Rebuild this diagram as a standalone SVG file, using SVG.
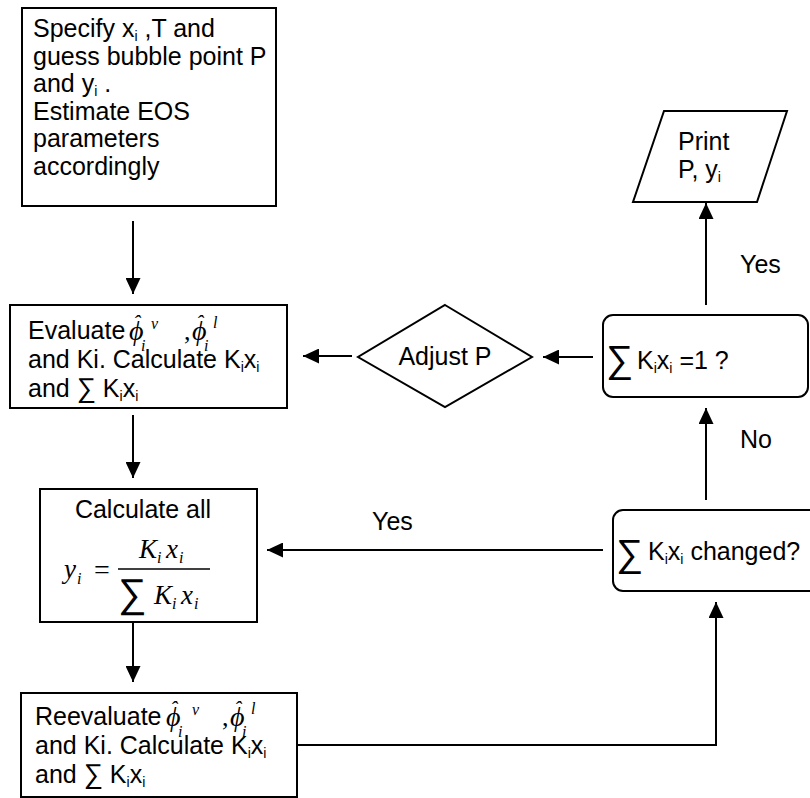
<svg xmlns="http://www.w3.org/2000/svg" width="810" height="798" viewBox="0 0 810 798">
<style>
.box{fill:#fff;stroke:#000;stroke-width:2}
.t{font-family:"Liberation Sans",Arial,sans-serif;font-size:25px;fill:#000}
.sub{font-size:14px}
.m{font-family:"Liberation Serif","Times New Roman",serif;font-style:italic;fill:#000}
.sig{font-family:"Liberation Sans","DejaVu Sans",sans-serif;fill:#000}
.c{fill:none;stroke:#000;stroke-width:2}
</style>
<defs>
<marker id="ah" markerUnits="userSpaceOnUse" markerWidth="16" markerHeight="15" refX="16" refY="7.5" orient="auto">
<path d="M0,0 L16,7.5 L0,15 z" fill="#000"/>
</marker>
</defs>
<g id="connectors">
<line class="c" x1="133" y1="221" x2="133" y2="294" marker-end="url(#ah)"/>
<line class="c" x1="133" y1="415" x2="133" y2="478" marker-end="url(#ah)"/>
<line class="c" x1="133" y1="622" x2="133" y2="682" marker-end="url(#ah)"/>
<polyline class="c" points="297,745 716,745 716,602" marker-end="url(#ah)"/>
<line class="c" x1="706" y1="500" x2="706" y2="408" marker-end="url(#ah)"/>
<line class="c" x1="706" y1="305" x2="706" y2="203" marker-end="url(#ah)"/>
<line class="c" x1="593" y1="357" x2="543" y2="357" marker-end="url(#ah)"/>
<line class="c" x1="352" y1="356" x2="303" y2="356" marker-end="url(#ah)"/>
<line class="c" x1="603" y1="550" x2="267" y2="550" marker-end="url(#ah)"/>
<text class="t" x="740" y="273">Yes</text>
<text class="t" x="740" y="448">No</text>
<text class="t" x="372" y="530">Yes</text>
</g>
<g id="n1">
<rect class="box" x="22" y="8" width="254" height="198"/>
<text class="t" x="33" y="37">Specify x<tspan class="sub" dy="4">i</tspan><tspan dy="-4"> ,T and</tspan></text>
<text class="t" x="33" y="65">guess bubble point P</text>
<text class="t" x="33" y="92">and y<tspan class="sub" dy="4">i</tspan><tspan dy="-4"> .</tspan></text>
<text class="t" x="33" y="120">Estimate EOS</text>
<text class="t" x="33" y="147">parameters</text>
<text class="t" x="33" y="175">accordingly</text>
</g>
<g id="n2">
<rect class="box" x="10" y="305" width="277" height="103"/>
<text class="t" x="28" y="339">Evaluate</text>
<text class="m"><tspan x="129" y="340" font-size="28">ϕ</tspan><tspan x="133" y="330" font-size="22">ˆ</tspan><tspan x="141" y="351" font-size="16">i</tspan><tspan x="151" y="329" font-size="16">v</tspan></text>
<text class="m"><tspan x="184" y="340" font-size="26" font-style="normal">,</tspan><tspan x="192" y="340" font-size="28">ϕ</tspan><tspan x="196" y="330" font-size="22">ˆ</tspan><tspan x="204" y="351" font-size="16">i</tspan><tspan x="213" y="328" font-size="16">l</tspan></text>
<text class="t" x="28" y="368">and Ki. Calculate K<tspan class="sub" dy="4">i</tspan><tspan dy="-4">x</tspan><tspan class="sub" dy="4">i</tspan></text>
<text class="t" x="28" y="397">and <tspan class="sig" font-size="27">∑</tspan> K<tspan class="sub" dy="4">i</tspan><tspan dy="-4">x</tspan><tspan class="sub" dy="4">i</tspan></text>
</g>
<g id="n3">
<rect class="box" x="40" y="489" width="217" height="133"/>
<text class="t" x="143" y="518" text-anchor="middle">Calculate all</text>
<text class="m"><tspan x="64" y="578" font-size="27">y</tspan><tspan x="77" y="584" font-size="16">i</tspan><tspan x="94" y="579" font-size="28" font-style="normal">=</tspan></text>
<text class="m"><tspan x="139" y="558" font-size="27">K</tspan><tspan x="157" y="563" font-size="16">i</tspan><tspan x="166" y="558" font-size="27">x</tspan><tspan x="179" y="563" font-size="16">i</tspan></text>
<line x1="118" y1="569" x2="210" y2="569" stroke="#000" stroke-width="1.5"/>
<text class="sig" x="118" y="607" font-size="40">∑</text>
<text class="m"><tspan x="154" y="604" font-size="27">K</tspan><tspan x="172" y="609" font-size="16">i</tspan><tspan x="181" y="604" font-size="27">x</tspan><tspan x="194" y="609" font-size="16">i</tspan></text>
</g>
<g id="n4">
<rect class="box" x="21" y="693" width="276" height="104"/>
<text class="t" x="35" y="725">Reevaluate</text>
<text class="m"><tspan x="166" y="726" font-size="28">ϕ</tspan><tspan x="170" y="716" font-size="22">ˆ</tspan><tspan x="178" y="737" font-size="16">i</tspan><tspan x="192" y="715" font-size="16">v</tspan></text>
<text class="m"><tspan x="222" y="726" font-size="26" font-style="normal">,</tspan><tspan x="230" y="726" font-size="28">ϕ</tspan><tspan x="234" y="716" font-size="22">ˆ</tspan><tspan x="242" y="737" font-size="16">i</tspan><tspan x="251" y="714" font-size="16">l</tspan></text>
<text class="t" x="35" y="754">and Ki. Calculate K<tspan class="sub" dy="4">i</tspan><tspan dy="-4">x</tspan><tspan class="sub" dy="4">i</tspan></text>
<text class="t" x="35" y="783">and <tspan class="sig" font-size="27">∑</tspan> K<tspan class="sub" dy="4">i</tspan><tspan dy="-4">x</tspan><tspan class="sub" dy="4">i</tspan></text>
</g>
<g id="n5">
<polygon class="box" points="445,305 532,357 445,407 358,357"/>
<text class="t" x="445" y="365" text-anchor="middle">Adjust P</text>
</g>
<g id="n6">
<rect class="box" x="603" y="315" width="205" height="82" rx="10"/>
<text class="sig" x="606" y="372" font-size="38">∑</text>
<text class="t" x="637" y="369">K<tspan class="sub" dy="4">i</tspan><tspan dy="-4">x</tspan><tspan class="sub" dy="4">i</tspan><tspan dy="-4"> =1 ?</tspan></text>
</g>
<g id="n7">
<rect class="box" x="613" y="510" width="210" height="81" rx="10"/>
<text class="sig" x="616" y="566" font-size="38">∑</text>
<text class="t" x="648" y="560">K<tspan class="sub" dy="4">i</tspan><tspan dy="-4">x</tspan><tspan class="sub" dy="4">i</tspan><tspan dy="-4"> changed?</tspan></text>
</g>
<g id="n8">
<polygon class="box" points="664,111 787,111 757,202 633,202"/>
<text class="t" x="678" y="150">Print</text>
<text class="t" x="678" y="178">P, y<tspan class="sub" dy="4">i</tspan></text>
</g>
</svg>
